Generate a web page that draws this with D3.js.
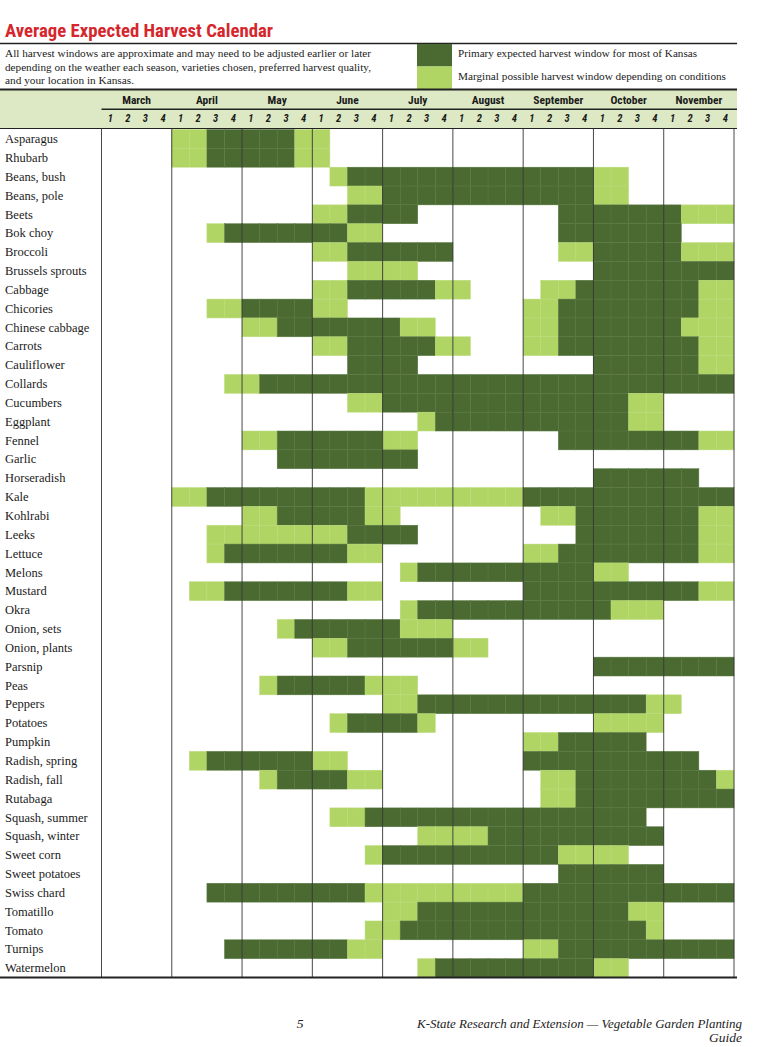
<!DOCTYPE html>
<html>
<head>
<meta charset="utf-8">
<script src="https://cdn.jsdelivr.net/npm/d3@7"></script>
<style>
  body { margin: 0; background: #fff; }
  svg { display: block; }
  .serif { font-family: "Liberation Serif", "DejaVu Serif", serif; }
  .cond { font-family: "Liberation Sans Narrow", "Roboto Condensed", Roboto, "Open Sans", sans-serif; }
</style>
</head>
<body>
<div id="wrapper"></div>
<script>
// ---- data ----
const months = ["March", "April", "May", "June", "July", "August", "September", "October", "November"];
const weeks = [1, 2, 3, 4];

const crops = [
  "Asparagus", "Rhubarb", "Beans, bush", "Beans, pole", "Beets", "Bok choy", "Broccoli",
  "Brussels sprouts", "Cabbage", "Chicories", "Chinese cabbage", "Carrots", "Cauliflower",
  "Collards", "Cucumbers", "Eggplant", "Fennel", "Garlic", "Horseradish", "Kale", "Kohlrabi",
  "Leeks", "Lettuce", "Melons", "Mustard", "Okra", "Onion, sets", "Onion, plants", "Parsnip",
  "Peas", "Peppers", "Potatoes", "Pumpkin", "Radish, spring", "Radish, fall", "Rutabaga",
  "Squash, summer", "Squash, winter", "Sweet corn", "Sweet potatoes", "Swiss chard",
  "Tomatillo", "Tomato", "Turnips", "Watermelon"
];

// D = primary window, L = marginal window, . = none (one char per week, | between months)
const schedule = [
  // Mar  Apr  May  Jun  Jul  Aug  Sep  Oct  Nov
  "....|LLDD|DDDL|L...|....|....|....|....|....", // Asparagus
  "....|LLDD|DDDL|L...|....|....|....|....|....", // Rhubarb
  "....|....|....|.LDD|DDDD|DDDD|DDDD|LL..|....", // Beans, bush
  "....|....|....|..LL|DDDD|DDDD|DDDD|LL..|....", // Beans, pole
  "....|....|....|LLDD|DD..|....|..DD|DDDD|DLLL", // Beets
  "....|..LD|DDDD|DDLL|....|....|..DD|DDDD|D...", // Bok choy
  "....|....|....|LLDD|DDDD|....|..LL|DDDD|DLLL", // Broccoli
  "....|....|....|..LL|LL..|....|....|DDDD|DDDD", // Brussels sprouts
  "....|....|....|LLDD|DDDL|L...|.LLD|DDDD|DDLL", // Cabbage
  "....|..LL|DDDD|LL..|....|....|LLDD|DDDD|DDLL", // Chicories
  "....|....|LLDD|DDDD|DLL.|....|LLDD|DDDD|DLLL", // Chinese cabbage
  "....|....|....|LLDD|DDDL|L...|LLDD|DDDD|DDLL", // Carrots
  "....|....|....|..DD|DD..|....|....|DDDD|DDLL", // Cauliflower
  "....|...L|LDDD|DDDD|DDDD|DDDD|DDDD|DDDD|DDDD", // Collards
  "....|....|....|..LL|DDDD|DDDD|DDDD|DDLL|....", // Cucumbers
  "....|....|....|....|..LD|DDDD|DDDD|DDLL|....", // Eggplant
  "....|....|LLDD|DDDD|LL..|....|..DD|DDDD|DDLL", // Fennel
  "....|....|..DD|DDDD|DD..|....|....|....|....", // Garlic
  "....|....|....|....|....|....|....|DDDD|DD..", // Horseradish
  "....|LLDD|DDDD|DDDL|LLLL|LLLL|DDDD|DDDD|DDDD", // Kale
  "....|....|LLDD|DDDL|L...|....|.LLD|DDDD|DDLL", // Kohlrabi
  "....|..LL|LLLL|LLDD|DD..|....|...D|DDDD|DDLL", // Leeks
  "....|..LD|DDDD|DDLL|....|....|LLDD|DDDD|DDLL", // Lettuce
  "....|....|....|....|.LDD|DDDD|DDDD|LL..|....", // Melons
  "....|.LLD|DDDD|DDLL|....|....|DDDD|DDDD|DDLL", // Mustard
  "....|....|....|....|.LDD|DDDD|DDDD|DLLL|....", // Okra
  "....|....|..LD|DDDD|DLLL|....|....|....|....", // Onion, sets
  "....|....|....|LLDD|DDDD|LL..|....|....|....", // Onion, plants
  "....|....|....|....|....|....|....|DDDD|DDDD", // Parsnip
  "....|....|.LDD|DDDL|LL..|....|....|....|....", // Peas
  "....|....|....|....|LLDD|DDDD|DDDD|DDDL|L...", // Peppers
  "....|....|....|.LDD|DDL.|....|....|LLLL|....", // Potatoes
  "....|....|....|....|....|....|LLDD|DDD.|....", // Pumpkin
  "....|.LDD|DDDD|LL..|....|....|DDDD|DDDD|DD..", // Radish, spring
  "....|....|.LDD|DDLL|....|....|.LLD|DDDD|DDDL", // Radish, fall
  "....|....|....|....|....|....|.LLD|DDDD|DDDD", // Rutabaga
  "....|....|....|.LLD|DDDD|DDDD|DDDD|DDD.|....", // Squash, summer
  "....|....|....|....|..LL|LLDD|DDDD|DDDD|....", // Squash, winter
  "....|....|....|...L|DDDD|DDDD|DDLL|LL..|....", // Sweet corn
  "....|....|....|....|....|....|..DD|DDDD|....", // Sweet potatoes
  "....|..DD|DDDD|DDDL|LLLL|LLLL|DDDD|DDDD|DDDD", // Swiss chard
  "....|....|....|....|LLDD|DDDD|DDDD|DDLL|....", // Tomatillo
  "....|....|....|...L|LDDD|DDDD|DDDD|DDDL|....", // Tomato
  "....|...D|DDDD|DDLL|....|....|LLDD|DDDD|DDDD", // Turnips
  "....|....|....|....|..LD|DDDD|DDDD|LL..|...."  // Watermelon
];

const noteLines = [
  "All harvest windows are approximate and may need to be adjusted earlier or later",
  "depending on the weather each season, varieties chosen, preferred harvest quality,",
  "and your location in Kansas."
];
const legendItems = [
  { key: "D", label: "Primary expected harvest window for most of Kansas" },
  { key: "L", label: "Marginal possible harvest window depending on conditions" }
];

const colors = { D: "#4a6a31", L: "#b0d565" };
const edge = { D: "#587940", L: "#bcdb7b" };

// ---- dimensions ----
const W = 780, H = 1047;
const gridLeft = 101.5, gridRight = 734, gridTop = 129.5, gridBottom = 977.5;

const svg = d3.select("#wrapper").append("svg").attr("width", W).attr("height", H);

// ---- scales ----
const cols = d3.range(months.length * weeks.length);
const xScale = d3.scaleBand().domain(cols).range([gridLeft, gridRight]);
const monthScale = d3.scaleBand().domain(months).range([gridLeft, gridRight]);
const yScale = d3.scaleBand().domain(crops).range([gridTop, gridBottom]);

// ---- title & note ----
svg.append("text")
  .attr("class", "cond")
  .attr("x", 5).attr("y", 37)
  .attr("textLength", 268).attr("lengthAdjust", "spacingAndGlyphs")
  .style("font-size", "18px").style("font-weight", 700)
  .attr("fill", "#d6262d")
  .text("Average Expected Harvest Calendar");

svg.append("line").attr("x1", 0).attr("x2", 737).attr("y1", 43.5).attr("y2", 43.5)
  .attr("stroke", "#222").attr("stroke-width", 1.5);

const noteWidths = [366, 366, 129];
svg.selectAll(".note").data(noteLines).join("text")
  .attr("class", "note serif")
  .attr("x", 5).attr("y", (d, i) => 57 + i * 13.6)
  .attr("textLength", (d, i) => noteWidths[i]).attr("lengthAdjust", "spacingAndGlyphs")
  .style("font-size", "11px").attr("fill", "#222")
  .text(d => d);

// ---- legend ----
const legendWidths = [239, 268];
const legend = svg.selectAll(".legend").data(legendItems).join("g").attr("class", "legend")
  .attr("transform", (d, i) => `translate(417, ${44 + i * 22.5})`);
legend.append("rect").attr("width", 35).attr("height", 22.5).attr("fill", d => colors[d.key]);
legend.append("text").attr("class", "serif")
  .attr("x", 41).attr("y", 13)
  .attr("textLength", (d, i) => legendWidths[i]).attr("lengthAdjust", "spacingAndGlyphs")
  .style("font-size", "11px").attr("fill", "#222")
  .text(d => d.label);

// ---- header band ----
svg.append("rect").attr("x", 0).attr("y", 90).attr("width", 737).attr("height", 38.5)
  .attr("fill", "#dde9c4");
svg.append("line").attr("x1", 0).attr("x2", 737).attr("y1", 89.5).attr("y2", 89.5)
  .attr("stroke", "#222").attr("stroke-width", 2);
svg.append("line").attr("x1", gridLeft).attr("x2", 737).attr("y1", 109.3).attr("y2", 109.3)
  .attr("stroke", "#222").attr("stroke-width", 1.5);
svg.append("line").attr("x1", 0).attr("x2", 737).attr("y1", 128.5).attr("y2", 128.5)
  .attr("stroke", "#222").attr("stroke-width", 1.2);

svg.selectAll(".month").data(months).join("text")
  .attr("class", "month cond")
  .attr("x", d => monthScale(d) + monthScale.bandwidth() / 2)
  .attr("y", 104)
  .attr("text-anchor", "middle")
  .style("font-size", "11.5px").style("font-weight", 700).attr("fill", "#1a1a1a")
  .text(d => d);

svg.selectAll(".week").data(cols).join("text")
  .attr("class", "week cond")
  .attr("x", d => xScale(d) + xScale.bandwidth() / 2)
  .attr("y", 122)
  .attr("text-anchor", "middle")
  .style("font-size", "10.5px").style("font-weight", 700).style("font-style", "italic")
  .attr("fill", "#1a1a1a")
  .text(d => weeks[d % weeks.length]);

// ---- cells ----
const cells = [];
crops.forEach((crop, r) => {
  schedule[r].replace(/\|/g, "").split("").forEach((k, c) => {
    if (k !== ".") cells.push({ crop, col: c, kind: k });
  });
});

svg.append("g").selectAll("rect").data(cells).join("rect")
  .attr("x", d => xScale(d.col))
  .attr("y", d => yScale(d.crop))
  .attr("width", xScale.bandwidth())
  .attr("height", yScale.bandwidth())
  .attr("fill", d => colors[d.kind])
  .attr("stroke", d => edge[d.kind])
  .attr("stroke-width", 0.5);

// ---- crop labels ----
svg.selectAll(".crop").data(crops).join("text")
  .attr("class", "crop serif")
  .attr("x", 5)
  .attr("y", d => yScale(d) + yScale.bandwidth() / 2 + 4.2)
  .style("font-size", "12.5px").attr("fill", "#1a1a1a")
  .text(d => d);

// ---- month dividers ----
const dividers = months.map(m => monthScale(m)).concat([gridRight]);
svg.selectAll(".divider").data(dividers).join("line")
  .attr("class", "divider")
  .attr("x1", d => d).attr("x2", d => d)
  .attr("y1", gridTop - 1).attr("y2", gridBottom)
  .attr("stroke", "#333").attr("stroke-width", 0.9);

svg.append("line").attr("x1", 0).attr("x2", 737).attr("y1", gridBottom).attr("y2", gridBottom)
  .attr("stroke", "#222").attr("stroke-width", 2);

// ---- footer ----
svg.append("text").attr("class", "serif")
  .attr("x", 300).attr("y", 1028).attr("text-anchor", "middle")
  .style("font-size", "13.5px").style("font-style", "italic").attr("fill", "#222")
  .text("5");
svg.append("text").attr("class", "serif")
  .attr("x", 742).attr("y", 1028).attr("text-anchor", "end")
  .attr("textLength", 325).attr("lengthAdjust", "spacingAndGlyphs")
  .style("font-size", "13.5px").style("font-style", "italic").attr("fill", "#222")
  .text("K-State Research and Extension — Vegetable Garden Planting");
svg.append("text").attr("class", "serif")
  .attr("x", 742).attr("y", 1042).attr("text-anchor", "end")
  .style("font-size", "13.5px").style("font-style", "italic").attr("fill", "#222")
  .text("Guide");
</script>
</body>
</html>
